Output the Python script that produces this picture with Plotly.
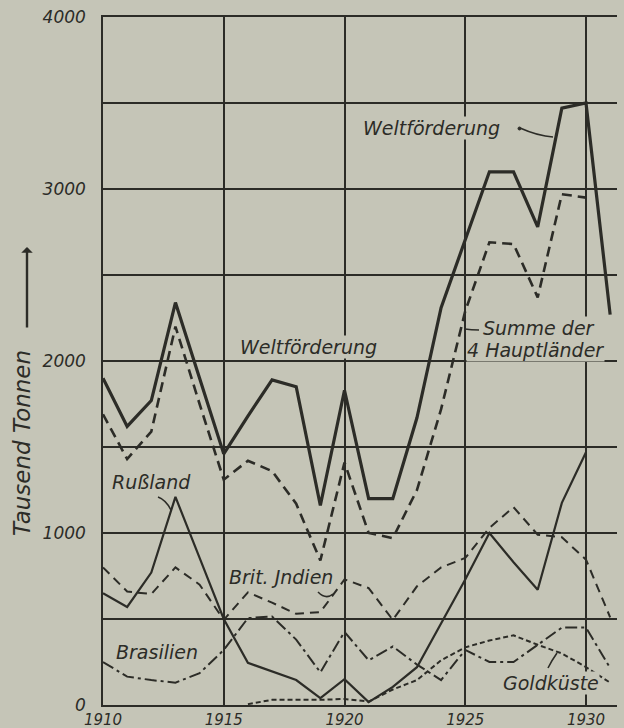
import plotly.graph_objects as go

# ---------------- data ----------------
years = list(range(1910, 1932))
welt = [1900, 1620, 1770, 2340, 1900, 1460, 1680, 1890, 1850, 1160, 1830, 1200,
        1200, 1670, 2310, 2700, 3100, 3100, 2780, 3470, 3500, 2270]
summe = [1690, 1430, 1590, 2200, 1750, 1310, 1420, 1360, 1170, 840, 1410, 1000,
         970, 1250, 1720, 2290, 2690, 2680, 2370, 2970, 2950, None]
russland = [650, 570, 770, 1210, 855, 500, 245, 195, 145, 40, 150, 17,
            105, 220, 475, 730, 1000, 830, 670, 1175, 1470, None]
indien = [800, 660, 645, 800, 700, 495, 655, 595, 530, 540, 730, 680,
          495, 690, 800, 855, 1030, 1150, 990, 975, 845, 510]
brasilien = [250, 165, 145, 130, 185, 320, 505, 515, 380, 190, 425, 260,
             340, 235, 145, 320, 250, 250, 350, 450, 450, 215]
goldkueste = [None, None, None, None, None, None, 5, 30, 30, 30, 35, 20,
              90, 145, 260, 335, 375, 405, 350, 300, 220, 130]

y_ticks = [0, 1000, 2000, 3000, 4000]
x_ticks = [1910, 1915, 1920, 1925, 1930]

# ---------------- styling ----------------
BG = "#c5c5b7"
INK = "#2c2c27"
FONT = "DejaVu Sans"

W, H = 624, 728
L, T, PW, PH = 103, 17, 514, 688
XPX = 24.15  # pixels per year


def X(px):
    return 1910 + (px - L) / XPX


def Y(py):
    return (T + PH - py) * 4000 / PH


fig = go.Figure()

series = [
    (welt, dict(color=INK, width=3.2, dash="solid")),
    (summe, dict(color=INK, width=2.6, dash="10px,6px")),
    (russland, dict(color=INK, width=2.2, dash="solid")),
    (indien, dict(color=INK, width=2.0, dash="9px,6px")),
    (brasilien, dict(color=INK, width=2.0, dash="12px,4px,3px,4px")),
    (goldkueste, dict(color=INK, width=2.0, dash="5px,3px")),
]
for vals, ln in series:
    fig.add_trace(go.Scatter(x=years, y=vals, mode="lines", line=ln,
                             connectgaps=False, showlegend=False,
                             hoverinfo="skip"))

# ---------------- labels ----------------
labels = [
    ("Weltförderung", 431, 128, "center", True),
    ("Weltförderung", 308, 347, "center", True),
    ("Summe der", 482, 328, "left", True),
    ("4 Hauptländer", 466, 350, "left", True),
    ("Rußland", 151, 482, "center", False),
    ("Brit. Jndien", 281, 577, "center", False),
    ("Brasilien", 157, 652, "center", False),
    ("Goldküste", 551, 683, "center", True),
]
for txt, px, py, anchor, bg in labels:
    fig.add_annotation(x=X(px), y=Y(py), text=txt, showarrow=False,
                       xanchor=anchor, yanchor="middle",
                       font=dict(family=FONT, size=19, color=INK, style="italic"),
                       bgcolor=BG if bg else None, borderpad=0)

# leader lines
leaders = [
    [(520, 128), (538, 136), (553, 137)],
    [(158, 497), (166, 500), (171, 510)],
    [(318, 592), (326, 600), (333, 594)],
    [(465, 329), (471, 330), (479, 330)],
    [(548, 668), (552, 660), (557, 653)],
]
for pts in leaders:
    (x0, y0), (cx, cy), (x1, y1) = pts
    path = f"M {X(x0)},{Y(y0)} Q {X(cx)},{Y(cy)} {X(x1)},{Y(y1)}"
    fig.add_shape(type="path", path=path, xref="x", yref="y",
                  line=dict(color=INK, width=1.6))
fig.add_shape(type="circle", xref="x", yref="y",
              x0=X(518), x1=X(521), y0=Y(130), y1=Y(127),
              fillcolor=INK, line=dict(color=INK, width=1))

# y-axis title and arrow
fig.add_annotation(xref="paper", yref="paper", x=(22 - L) / PW, y=(T + PH - 443) / PH,
                   xanchor="center", yanchor="middle",
                   text="Tausend Tonnen", textangle=-90, showarrow=False,
                   font=dict(family=FONT, size=23, color=INK, style="italic"))
fig.add_annotation(xref="paper", yref="paper", x=(27 - L) / PW, y=(T + PH - 247) / PH,
                   ax=0, ay=82, axref="pixel", ayref="pixel", text="",
                   showarrow=True, arrowhead=1, arrowsize=0.8, arrowwidth=2.4,
                   arrowcolor=INK)

fig.update_layout(
    width=W, height=H,
    margin=dict(l=L, r=W - L - PW, t=T, b=H - T - PH),
    paper_bgcolor=BG, plot_bgcolor=BG,
    showlegend=False,
    xaxis=dict(range=[1910, X(L + PW)], tickvals=x_ticks,
               ticktext=[str(v) for v in x_ticks], automargin=False,
               showgrid=True, gridcolor=INK, gridwidth=1.5,
               showline=True, linecolor=INK, linewidth=1.5, mirror=True,
               zeroline=False, ticks="", ticklabelstandoff=0,
               tickfont=dict(family=FONT, size=15, color=INK, style="italic")),
    yaxis=dict(range=[0, 4000], tickvals=y_ticks,
               ticktext=[str(v) for v in y_ticks], automargin=False,
               showgrid=True, gridcolor=INK, gridwidth=1.5,
               minor=dict(dtick=500, showgrid=True, gridcolor=INK, gridwidth=1.5),
               showline=True, linecolor=INK, linewidth=1.5,
               zeroline=False, ticks="", ticklabelstandoff=12,
               tickfont=dict(family=FONT, size=17, color=INK, style="italic")),
)

fig.write_html("out.html",
               config={"displayModeBar": False},
               post_script="document.body.style.margin='0px';"
                           "document.body.style.background='" + BG + "';")
